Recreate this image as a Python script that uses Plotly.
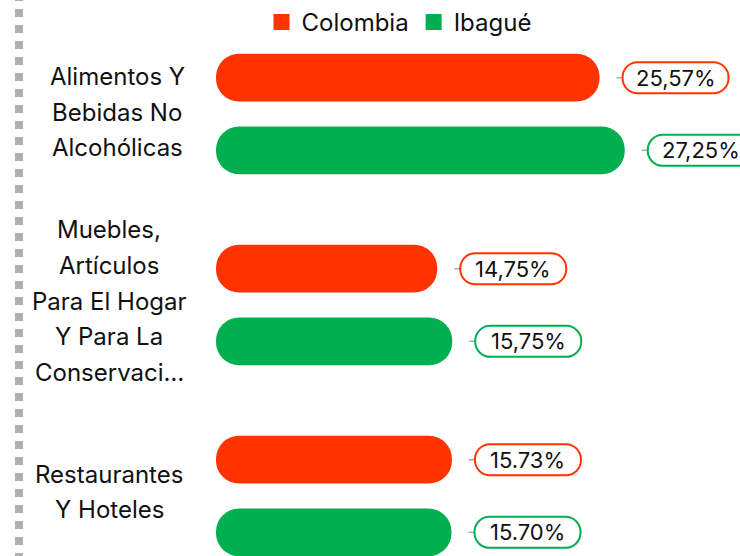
import plotly.graph_objects as go

categories = [
    ["Alimentos Y", "Bebidas No", "Alcohólicas"],
    ["Muebles,", "Artículos", "Para El Hogar", "Y Para La", "Conservaci…"],
    ["Restaurantes", "Y Hoteles"],
]
series_names = ["Colombia", "Ibagué"]
colombia = [25.57, 14.75, 15.73]
ibague = [27.25, 15.75, 15.70]
colombia_labels = ["25,57%", "14,75%", "15.73%"]
ibague_labels = ["27,25%", "15,75%", "15.70%"]

RED = "#FF3300"
GREEN = "#00B050"
FONT = "Inter"
OFF = 0.19
BW = 0.25
L = 216
PW = 740 - L
LABEL_CX = [117, 109, 109]

fig = go.Figure()

def add_series(name, vals, color, sign):
    ys = [i + sign * OFF for i in range(len(vals))]
    fig.add_trace(go.Bar(
        orientation="h", y=ys, x=vals, base=[0.0 for _ in vals],
        width=BW, marker=dict(color=color, cornerradius="50%", line=dict(width=0)),
        name=name, showlegend=False, hoverinfo="skip"))
    # legend entry with a square swatch
    fig.add_trace(go.Scatter(
        x=[None], y=[None], mode="markers", name=name,
        marker=dict(symbol="square", size=17, color=color), showlegend=True))
    return ys

ys_c = add_series(series_names[0], colombia, RED, -1)
ys_i = add_series(series_names[1], ibague, GREEN, 1)

GAP = 23
W = 106
H = 15.5
R = 15
k = 0.552 * R
a, b = GAP, GAP + W
pill = (f"M {a+R},{-H} L {b-R},{-H} C {b-R+k},{-H} {b},{-H+R-k} {b},{-H+R} "
        f"L {b},{H-R} C {b},{H-R+k} {b-R+k},{H} {b-R},{H} "
        f"L {a+R},{H} C {a+R-k},{H} {a},{H-R+k} {a},{H-R} "
        f"L {a},{-H+R} C {a},{-H+R-k} {a+R-k},{-H} {a+R},{-H} Z")

for vals, ys, labels, color in [(colombia, ys_c, colombia_labels, RED),
                                (ibague, ys_i, ibague_labels, GREEN)]:
    for v, y, t in zip(vals, ys, labels):
        fig.add_shape(type="path", xref="x", yref="y", xsizemode="pixel", ysizemode="pixel",
                      xanchor=v, yanchor=y, path=f"M {GAP-6},0 L {GAP},0",
                      line=dict(color="#aaaaaa", width=1.5))
        fig.add_shape(type="path", xref="x", yref="y", xsizemode="pixel", ysizemode="pixel",
                      xanchor=v, yanchor=y, path=pill,
                      line=dict(color=color, width=2), fillcolor="rgba(0,0,0,0)")
        fig.add_annotation(x=v, y=y, xref="x", yref="y", text=t, showarrow=False,
                           xshift=GAP + W / 2, yshift=0, xanchor="center", yanchor="middle",
                           font=dict(family=FONT, size=22, color="#111111"))

LS = 35.7
for i, lines in enumerate(categories):
    n = len(lines)
    for j, line in enumerate(lines):
        fig.add_annotation(x=0, xref="paper", y=i, yref="y", text=line, showarrow=False,
                           xshift=LABEL_CX[i] - L, yshift=((n - 1) / 2 - j) * LS + (2 if i == 0 else 4),
                           xanchor="center", yanchor="middle",
                           font=dict(family=FONT, size=24, color="#111111"))

# dotted decorative border on the left
fig.add_shape(type="line", xref="paper", yref="paper", x0=-(L - 19) / PW, x1=-(L - 19) / PW,
              y0=1 + 7 / 556, y1=0, line=dict(color="#b0b0b0", width=8, dash="8px,8px"))

fig.update_layout(
    width=740, height=556,
    margin=dict(l=L, r=0, t=0, b=0, autoexpand=False),
    paper_bgcolor="white", plot_bgcolor="white",
    barmode="overlay",
    showlegend=True,
    legend=dict(orientation="h", x=(399 - L) / PW, xanchor="center",
                y=1.0, yanchor="top", bgcolor="rgba(0,0,0,0)",
                font=dict(family=FONT, size=24, color="#111111"),
                itemclick=False, traceorder="normal"),
    xaxis=dict(range=[0, PW / 15], visible=False, fixedrange=True),
    yaxis=dict(range=[2.314, -0.597], visible=False, fixedrange=True),
    font=dict(family=FONT),
)

fig.write_html("out.html", config={"displayModeBar": False},
               post_script="document.body.style.margin='0';")
